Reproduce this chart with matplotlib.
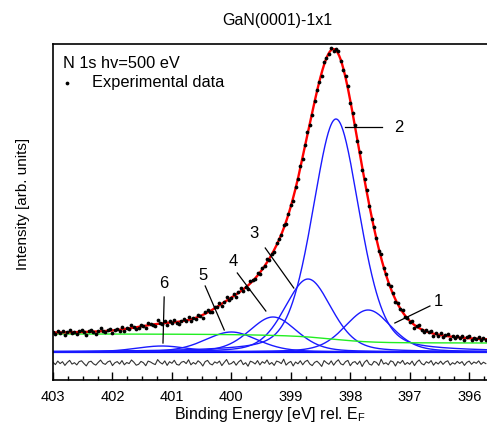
import numpy as np
import matplotlib
matplotlib.use("Agg")
import matplotlib.pyplot as plt

plt.rcParams['font.family'] = ['Liberation Sans', 'DejaVu Sans']

# fitted components (binding energy eV, height, FWHM eV), heights in arb. units
centers = [397.70, 398.24, 398.71, 399.30, 400.00, 401.17]
heights = [42, 233, 73, 35, 20, 6]
fwhms = [0.93, 0.93, 0.93, 0.95, 1.05, 1.05]
eta = 0.3  # Lorentzian fraction
bg_low, bg_high = 9.0, 18.0  # Shirley background ends
res_offset = -11.0

# measured points 403.00 -> 395.72 eV, step 0.04 eV; residual (data - fit)
energy = np.linspace(403.0, 395.72, 183)
residual = [
    0.8, -1.6, 1.9, -0.6, 1.3, -2.4, 0.5, 2.6, -1.1, 0.3, -1.9, 1.4, 2.2, -0.5, -2.9,
    1.0, 1.8, -0.8, -2.1, 0.6, 2.9, -0.3, -1.4, 1.1, 2.1, -2.6, 0.2, 1.4, -1.0, 2.4,
    -1.8, 0.5, -0.6, 3.0, 0.8, -2.2, -1.3, 1.6, 0.3, -2.7, 1.9, 1.0, -0.5, -1.6, 3.4,
    0.6, -1.0, 2.1, -2.4, 1.3, -0.3, 2.7, -1.4, -2.1, 0.8, 1.6, -0.6, 3.2, -1.8, 0.5,
    -1.1, 2.2, 0.3, -3.0, 1.4, 2.6, -0.8, -1.9, 1.1, -0.2, 1.9, -2.6, 0.6, 3.5, -1.3,
    -0.5, 1.6, -2.2, 1.0, 2.9, -1.6, 0.3, -3.2, 1.8, 0.8, -1.0, 2.4, -1.9, 1.3, -0.3,
    3.0, -1.4, 0.5, -2.4, 1.9, 1.1, -0.6, 3.8, -2.1, 0.2, 1.6, -2.9, 1.0, -0.8, 2.2,
    -1.8, 1.4, 2.7, -1.0, -2.6, 0.6, 1.8, -0.5, -3.4, 2.4, 0.3, -1.3, 2.1, -2.2, 1.1,
    3.2, -0.8, -1.9, 1.3, 2.6, -2.7, 0.5, 1.4, -1.4, 1.9, -3.5, 0.8, 2.9, -1.1, -2.1,
    1.6, 0.6, -2.4, 3.7, -1.0, 0.3, -1.8, 2.2, 1.1, -3.0, 1.4, -0.3, 2.6, -1.6, 0.5,
    -1.3, 1.9, -2.6, 1.0, 3.0, -0.6, -1.9, 1.3, -0.2, 2.4, -2.2, 0.8, -1.0, 1.8, -1.4,
    1.1, 2.2, -2.1, 0.3, -1.1, 1.6, -0.5, 1.4, -2.4, 0.6, 1.9, -1.3, 1.0, -0.3, 2.1,
    -1.4, 0.8, -0.6,
]

# peak labels: (text pos), (line start), (line end)
labels = ['1', '2', '3', '4', '5', '6']
label_xy = [(396.51, 50), (397.18, 225), (399.62, 118), (399.97, 91), (400.48, 77), (401.13, 69)]
line_from = [(396.66, 46), (397.47, 225), (399.43, 104), (399.90, 79), (400.44, 66), (401.13, 55)]
line_to = [(397.25, 29), (398.09, 225), (398.95, 64), (399.42, 41), (400.12, 22), (401.15, 9)]


def pvoigt(x, c, h, w):
    d = (x - c) / w
    g = np.exp(-4 * np.log(2) * d ** 2)
    l = 1.0 / (1 + 4 * d ** 2)
    return h * (eta * l + (1 - eta) * g)


def model(x):
    comps = [pvoigt(x, c, h, w) for c, h, w in zip(centers, heights, fwhms)]
    tot = np.sum(comps, axis=0)
    return comps, tot


# Shirley background from component areas (integrated from low BE side)
xf = np.linspace(395.6, 403.1, 1500)
comps, tot = model(xf)
cum = np.concatenate([[0], np.cumsum((tot[1:] + tot[:-1]) / 2 * np.diff(xf))])
bg = bg_low + (bg_high - bg_low) * cum / cum[-1]
fit = tot + bg

data = np.interp(energy, xf, fit) + np.array(residual)

fig = plt.figure(figsize=(4.87, 4.29), dpi=100)
ax = fig.add_axes([53 / 487, 49 / 429, 434 / 487, 336 / 429])

ax.plot(xf, np.zeros_like(xf), color='#0000ff', lw=1.6)
for cp in comps:
    ax.plot(xf, cp, color='#1a1aff', lw=1.0)
ax.plot(xf, bg, color='#22ee22', lw=1.0)
ax.plot(xf, fit, color='#ff0000', lw=1.7)
ax.plot(energy, data, 'o', color='black', ms=2.7, mec='black', mew=0)
ax.plot(energy, res_offset + np.array(residual), color='#333333', lw=0.8)

for t, p, a, b in zip(labels, label_xy, line_from, line_to):
    ax.plot([a[0], b[0]], [a[1], b[1]], color='black', lw=0.9)
    ax.text(p[0], p[1], t, ha='center', va='center', fontsize=12)

ax.text(0.023, 0.943, 'N 1s hv=500 eV', transform=ax.transAxes, fontsize=11.8, va='center')
ax.plot([0.032], [0.884], 'o', color='black', ms=2.7, mew=0, transform=ax.transAxes)
ax.text(0.09, 0.884, 'Experimental data', transform=ax.transAxes, fontsize=11.8, va='center')

ax.set_xlim(403, 395.7)
ax.set_ylim(-28, 308)
ax.set_xticks([403, 402, 401, 400, 399, 398, 397, 396])
ax.set_xticks(np.arange(395.75, 403.01, 0.25), minor=True)
ax.set_yticks([])
ax.tick_params(axis='x', direction='in', length=6, width=1, labelsize=10.5, pad=7)
ax.tick_params(axis='x', which='minor', direction='in', length=3, width=1)
ax.spines['right'].set_visible(False)
for s in ['left', 'top', 'bottom']:
    ax.spines[s].set_linewidth(1.2)

ax.set_xlabel('Binding Energy [eV] rel. E$_\\mathregular{F}$', fontsize=11.5, labelpad=1)
fig.text(23 / 487, 1 - 204 / 429, 'Intensity [arb. units]', rotation=90,
         ha='center', va='center', fontsize=11)
fig.text(277 / 487, 1 - 20 / 429, 'GaN(0001)-1x1', ha='center', va='center', fontsize=11.5)

fig.savefig('out.png', dpi=100)
